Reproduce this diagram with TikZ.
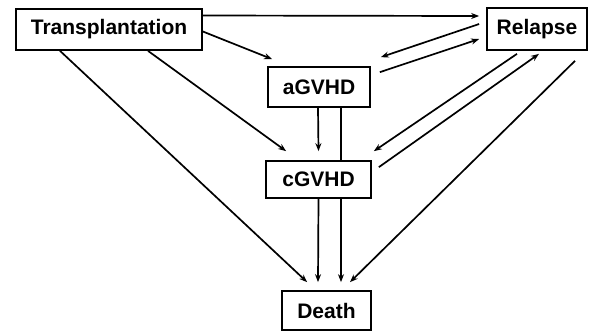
\documentclass[tikz,border=0pt]{standalone}
\usepackage{fontspec}
\setmainfont{Liberation Sans}
\usetikzlibrary{arrows.meta,backgrounds}
\tikzset{every path/.style={black,line width=1.7pt},
  box/.style={draw,fill=white,inner sep=0pt,font=\fontsize{21}{25}\selectfont\bfseries},
  arr/.style={-{Stealth[length=8pt,width=6pt]}}}

\begin{document}
\begin{tikzpicture}[x=1pt,y=-1pt]
  \useasboundingbox (0,0) rectangle (597,333);
   \node[box,minimum width=186pt,minimum height=41pt] (trans)   at (109.0, 29.5) {Transplantation};
   \node[box,minimum width=100pt,minimum height=42pt] (relapse) at (537.0, 29.0) {Relapse};
   \node[box,minimum width=102pt,minimum height=40pt] (agvhd)   at (319.0, 87.0) {aGVHD};
   \node[box,minimum width=105pt,minimum height=37pt] (cgvhd)   at (318.5,179.5) {cGVHD};
   \node[box,minimum width= 89pt,minimum height=39pt] (death)   at (326.5,310.5) {Death};
  \begin{scope}[on background layer]
   % from Transplantation
   \draw[arr] ([yshift=14pt]trans.east) -- ([xshift=-7pt,yshift=13pt]relapse.west);
   \draw[arr] ([yshift=-2pt]trans.east) -- ([xshift=5pt,yshift=7pt]agvhd.north west);
   \draw[arr] ([xshift=39pt]trans.south) -- ([xshift=21pt,yshift=9pt]cgvhd.north west);
   \draw[arr] ([xshift=-49pt]trans.south) -- ([xshift=26pt,yshift=8pt]death.north west);
   % from aGVHD
   \draw[arr] ([xshift=-1pt]agvhd.south) -- ([yshift=9pt]cgvhd.north);
   \draw[arr] ([xshift=22pt]agvhd.south) -- ([xshift=14.5pt,yshift=8pt]death.north);
   \draw[arr] ([xshift=9pt,yshift=-6pt]agvhd.north east) -- ([xshift=-7pt,yshift=-10pt]relapse.west);
   % from cGVHD
   \draw[arr] (cgvhd.south) -- ([xshift=-8.5pt,yshift=8pt]death.north);
   \draw[arr] ([xshift=7pt,yshift=-7pt]cgvhd.north east) -- ([xshift=2pt,yshift=-3pt]relapse.south);
   % from Relapse
   \draw[arr] ([xshift=-7pt,yshift=5pt]relapse.west) -- ([xshift=10pt,yshift=9pt]agvhd.north east);
   \draw[arr] ([xshift=-20pt,yshift=-3pt]relapse.south) -- ([xshift=2pt,yshift=9pt]cgvhd.north east);
   \draw[arr] ([xshift=38pt,yshift=-10pt]relapse.south) -- ([xshift=23.5pt,yshift=8pt]death.north);
  \end{scope}
 \end{tikzpicture}
\end{document}
